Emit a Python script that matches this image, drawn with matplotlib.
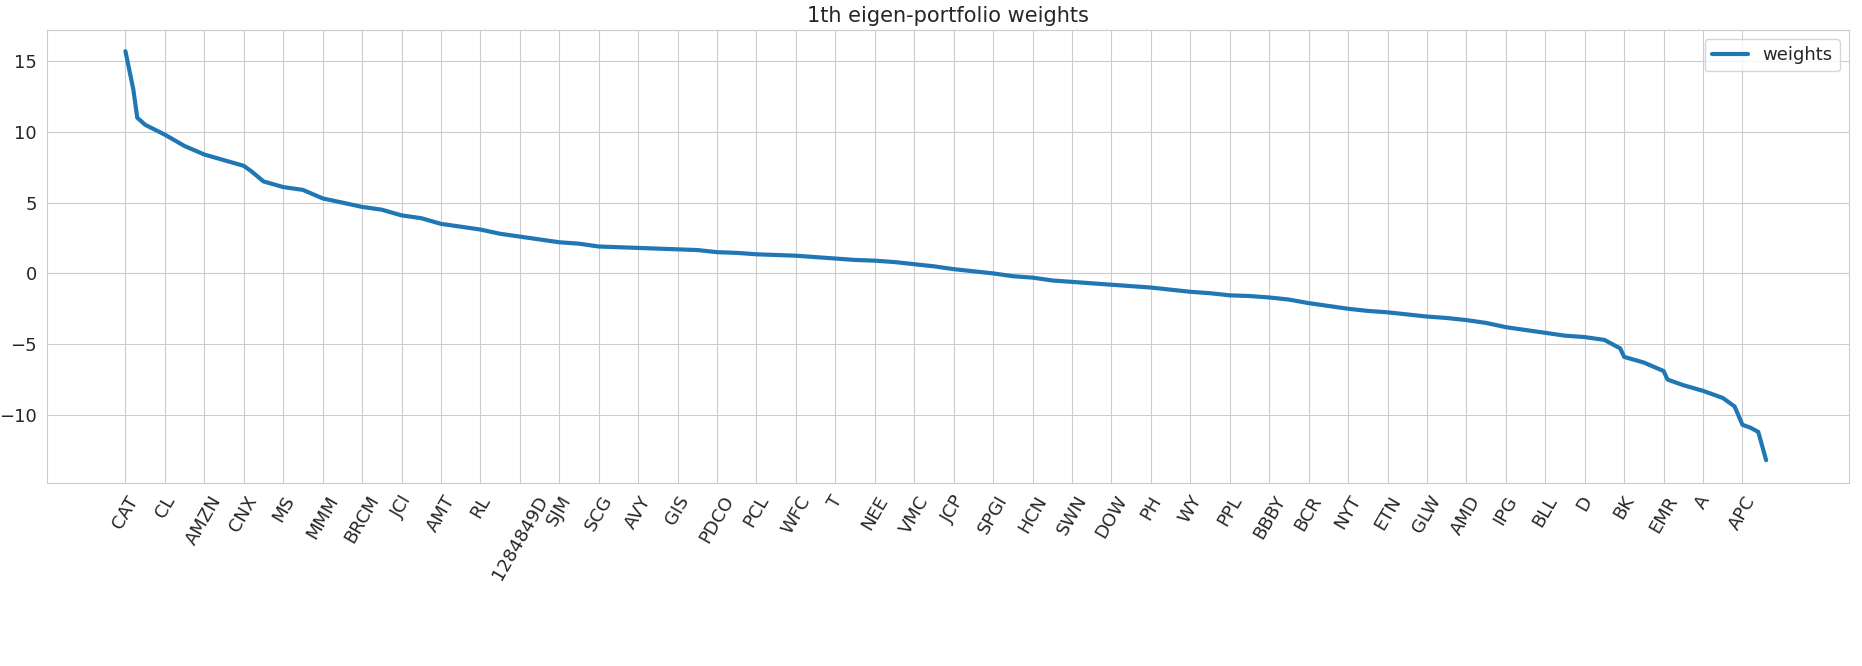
import matplotlib.pyplot as plt
import seaborn as sns

sns.set_style("whitegrid")

tickers = ["CAT", "CL", "AMZN", "CNX", "MS", "MMM", "BRCM", "JCI", "AMT", "RL",
           "1284849D", "SJM", "SCG", "AVY", "GIS", "PDCO", "PCL", "WFC", "T", "NEE",
           "VMC", "JCP", "SPGI", "HCN", "SWN", "DOW", "PH", "WY", "PPL", "BBBY",
           "BCR", "NYT", "ETN", "GLW", "AMD", "IPG", "BLL", "D", "BK", "EMR",
           "A", "APC"]

# stock rank (sorted position) and weight
rank = [0, 2, 3, 5, 10, 15, 20, 25, 30, 32, 35, 40, 45, 50, 55, 60, 65, 70, 75,
        80, 85, 90, 95, 100, 105, 110, 115, 120, 125, 130, 135, 140, 145, 150,
        155, 160, 165, 170, 175, 180, 185, 190, 195, 200, 205, 210, 215, 220,
        225, 230, 235, 240, 245, 250, 255, 260, 265, 270, 275, 280, 285, 290,
        295, 300, 305, 310, 315, 320, 325, 330, 335, 340, 345, 350, 355, 360,
        365, 370, 375, 379, 380, 385, 390, 391, 395, 400, 405, 408, 410, 412,
        414, 416]
weights = [15.7, 13.0, 11.0, 10.5, 9.8, 9.0, 8.4, 8.0, 7.6, 7.2, 6.5, 6.1, 5.9,
           5.3, 5.0, 4.7, 4.5, 4.1, 3.9, 3.5, 3.3, 3.1, 2.8, 2.6, 2.4, 2.2, 2.1,
           1.9, 1.85, 1.8, 1.75, 1.7, 1.65, 1.5, 1.45, 1.35, 1.3, 1.25, 1.15,
           1.05, 0.95, 0.9, 0.8, 0.65, 0.5, 0.3, 0.15, 0.0, -0.2, -0.3, -0.5,
           -0.6, -0.7, -0.8, -0.9, -1.0, -1.15, -1.3, -1.4, -1.55, -1.6, -1.7,
           -1.85, -2.1, -2.3, -2.5, -2.65, -2.75, -2.9, -3.05, -3.15, -3.3,
           -3.5, -3.8, -4.0, -4.2, -4.4, -4.5, -4.7, -5.3, -5.9, -6.3, -6.9,
           -7.5, -7.9, -8.3, -8.8, -9.4, -10.7, -10.9, -11.2, -13.2]

fig, ax = plt.subplots(figsize=(18.62, 6.66), dpi=100)
ax.plot(rank, weights, color="#1f77b4", linewidth=3, label="weights")
ax.set_xticks(range(0, 10 * len(tickers), 10))
ax.set_xticklabels(tickers, rotation=60, fontsize=13)
ax.tick_params(axis="y", labelsize=13)
ax.set_xlim(-20, 437)
ax.set_ylim(-14.8, 17.2)
ax.set_title("1th eigen-portfolio weights", fontsize=15)
ax.legend(loc="upper right", fontsize=13)
plt.subplots_adjust(left=0.025, right=0.993, top=0.955, bottom=0.275)
plt.savefig("out.png")
